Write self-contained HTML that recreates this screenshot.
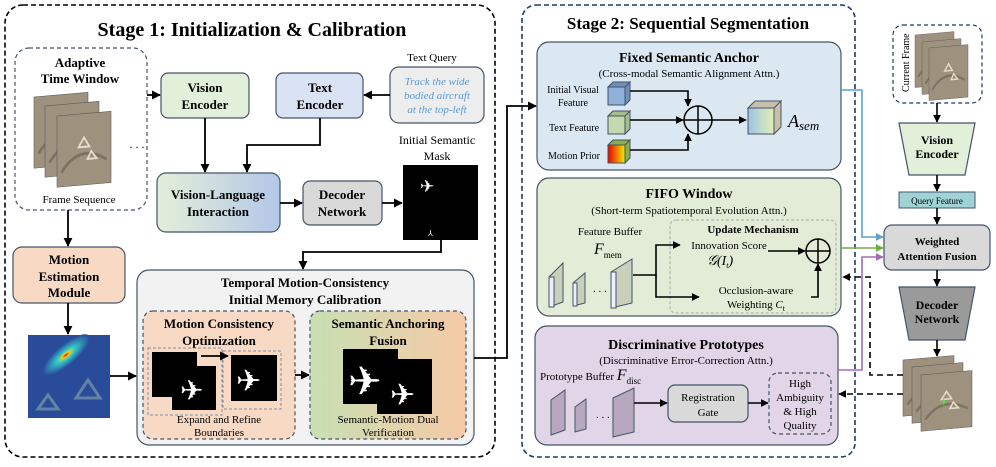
<!DOCTYPE html><html><head><meta charset="utf-8"><style>body{margin:0;background:#fff}svg{display:block;font-family:"Liberation Serif",serif}</style></head><body>
<svg width="996" height="467" viewBox="0 0 996 467" xmlns="http://www.w3.org/2000/svg">
<defs>
<marker id="a" viewBox="0 0 10 10" refX="9" refY="5" markerWidth="5" markerHeight="5" orient="auto"><path d="M0,0L10,5L0,10z" fill="#000"/></marker>
<marker id="ab" viewBox="0 0 10 10" refX="9" refY="5" markerWidth="5" markerHeight="5" orient="auto"><path d="M0,0L10,5L0,10z" fill="#5ba3c9"/></marker>
<marker id="ag" viewBox="0 0 10 10" refX="9" refY="5" markerWidth="5" markerHeight="5" orient="auto"><path d="M0,0L10,5L0,10z" fill="#70ad47"/></marker>
<marker id="ap" viewBox="0 0 10 10" refX="9" refY="5" markerWidth="5" markerHeight="5" orient="auto"><path d="M0,0L10,5L0,10z" fill="#a56bb8"/></marker>
<linearGradient id="vl" x1="0" x2="1"><stop offset="0" stop-color="#e2efd9"/><stop offset="1" stop-color="#b4c7e7"/></linearGradient>
<linearGradient id="saf" x1="0" x2="1"><stop offset="0" stop-color="#c9dfb4"/><stop offset="1" stop-color="#f6caa6"/></linearGradient>
<linearGradient id="mp" x1="0" x2="1"><stop offset="0" stop-color="#e00"/><stop offset="1" stop-color="#ee0"/></linearGradient>
<linearGradient id="as" x1="0" x2="1"><stop offset="0" stop-color="#9dc3e6"/><stop offset="1" stop-color="#e2efb4"/></linearGradient>
<radialGradient id="hm"><stop offset="0" stop-color="#c00"/><stop offset=".15" stop-color="#fc0"/><stop offset=".35" stop-color="#3cc"/><stop offset="1" stop-color="#2a4a9a"/></radialGradient>
<g id="sat"><rect width="60" height="75" fill="#9e927e" stroke="#555" stroke-width=".6"/><path d="M5 60 Q25 30 55 50" stroke="#7d7262" fill="none" stroke-width="3"/><path d="M30 25l6 10h-12z M38 40l6 8h-10z" fill="none" stroke="#e8dccb" stroke-width="2"/></g>
</defs>
<g stroke-width="1.6" fill="none">
<rect x="5" y="5" width="490" height="452" rx="18" stroke="#000" stroke-dasharray="5,3"/>
<rect x="522" y="5" width="333" height="452" rx="14" stroke="#1f3864" stroke-dasharray="5,3"/>
</g>
<text x="252" y="36" font-size="20" font-weight="bold" text-anchor="middle">Stage 1: Initialization &amp; Calibration</text>
<text x="688" y="29" font-size="17" font-weight="bold" text-anchor="middle">Stage 2: Sequential Segmentation</text>
<rect x="15" y="48" width="132" height="162" rx="14" fill="#fff" stroke="#44546a" stroke-width="1.2" stroke-dasharray="4,3"/>
<text x="80" y="67" font-size="13" font-weight="bold" text-anchor="middle">Adaptive</text>
<text x="80" y="83" font-size="13" font-weight="bold" text-anchor="middle">Time Window</text>
<g transform="translate(34,97) skewY(-5) scale(.9,.95)"><use href="#sat"/></g>
<g transform="translate(45,106) skewY(-5) scale(.9,.95)"><use href="#sat"/></g>
<g transform="translate(57,116) skewY(-5) scale(.9,.95)"><use href="#sat"/></g>
<text x="137" y="148" font-size="12" text-anchor="middle">. . .</text>
<text x="79" y="203" font-size="11" text-anchor="middle">Frame Sequence</text>
<rect x="161" y="73" width="88" height="45" rx="7" fill="#e2efd9" stroke="#44546a" stroke-width="1.2"/>
<text x="205" y="92" font-size="13" font-weight="bold" text-anchor="middle">Vision</text><text x="205" y="109" font-size="13" font-weight="bold" text-anchor="middle">Encoder</text>
<rect x="276" y="73" width="87" height="45" rx="7" fill="#dae3f3" stroke="#44546a" stroke-width="1.2"/>
<text x="320" y="92" font-size="13" font-weight="bold" text-anchor="middle">Text</text><text x="320" y="109" font-size="13" font-weight="bold" text-anchor="middle">Encoder</text>
<text x="432" y="61" font-size="11" text-anchor="middle">Text Query</text>
<rect x="390" y="67" width="94" height="56" rx="9" fill="#ededed" stroke="#44546a" stroke-width="1.2"/>
<g font-size="11" font-style="italic" fill="#5b9bd5" text-anchor="middle"><text x="437" y="85">Track the wide</text><text x="437" y="99">bodied aircraft</text><text x="437" y="113">at the top-left</text></g>
<rect x="157" y="173" width="123" height="59" rx="9" fill="url(#vl)" stroke="#44546a" stroke-width="1.2"/>
<text x="218" y="199" font-size="13" font-weight="bold" text-anchor="middle">Vision-Language</text><text x="218" y="216" font-size="13" font-weight="bold" text-anchor="middle">Interaction</text>
<rect x="303" y="181" width="79" height="44" rx="7" fill="#d9d9d9" stroke="#44546a" stroke-width="1.2"/>
<text x="342" y="199" font-size="13" font-weight="bold" text-anchor="middle">Decoder</text><text x="342" y="216" font-size="13" font-weight="bold" text-anchor="middle">Network</text>
<text x="437" y="144" font-size="12" text-anchor="middle">Initial Semantic</text><text x="437" y="160" font-size="12" text-anchor="middle">Mask</text>
<rect x="403" y="165" width="75" height="75" fill="#000"/>
<text x="420" y="192" font-size="17" fill="#fff">✈</text><text x="428" y="236" font-size="8" fill="#fff">⅄</text>
<rect x="13" y="247" width="112" height="56" rx="9" fill="#f8d9c4" stroke="#44546a" stroke-width="1.2"/>
<g font-size="13" font-weight="bold" text-anchor="middle"><text x="69" y="264">Motion</text><text x="69" y="281">Estimation</text><text x="69" y="297">Module</text></g>
<rect x="28" y="335" width="82" height="83" fill="#2a4a9a"/>
<ellipse cx="66" cy="355" rx="30" ry="10" transform="rotate(-40 66 355)" fill="url(#hm)"/>
<path d="M88 380l12 18h-24z M48 395l10 14h-20z" fill="none" stroke="#8aa" stroke-width="3" opacity=".6"/>
<rect x="137" y="270" width="337" height="175" rx="12" fill="#f2f2f2" stroke="#44546a" stroke-width="1.2"/>
<text x="305" y="287" font-size="13" font-weight="bold" text-anchor="middle">Temporal Motion-Consistency</text>
<text x="305" y="304" font-size="13" font-weight="bold" text-anchor="middle">Initial Memory Calibration</text>
<rect x="143" y="311" width="152" height="128" rx="10" fill="#f8d9c4" stroke="#44546a" stroke-width="1.2" stroke-dasharray="4,3"/>
<text x="219" y="328" font-size="13" font-weight="bold" text-anchor="middle">Motion Consistency</text><text x="219" y="345" font-size="13" font-weight="bold" text-anchor="middle">Optimization</text>
<rect x="148" y="348" width="74" height="67" fill="none" stroke="#7f8fa6" stroke-dasharray="3,2"/>
<rect x="223" y="351" width="58" height="58" fill="none" stroke="#7f8fa6" stroke-dasharray="3,2"/>
<rect x="152" y="352" width="45" height="45" fill="#000"/><rect x="172" y="366" width="44" height="44" fill="#000"/>
<text x="180" y="400" font-size="28" fill="#fff">✈</text>
<rect x="231" y="355" width="46" height="46" fill="#000"/><text x="236" y="391" font-size="30" fill="#fff">✈</text>
<text x="219" y="423" font-size="11" text-anchor="middle">Expand and Refine</text><text x="219" y="436" font-size="11" text-anchor="middle">Boundaries</text>
<rect x="310" y="311" width="156" height="128" rx="10" fill="url(#saf)" stroke="#44546a" stroke-width="1.2" stroke-dasharray="4,3"/>
<text x="388" y="328" font-size="13" font-weight="bold" text-anchor="middle">Semantic Anchoring</text><text x="388" y="345" font-size="13" font-weight="bold" text-anchor="middle">Fusion</text>
<rect x="343" y="349" width="55" height="55" fill="#000"/><rect x="377" y="359" width="55" height="55" fill="#000"/>
<text x="348" y="395" font-size="40" fill="#fff">✈</text><text x="390" y="405" font-size="30" fill="#fff">✈</text>
<text x="388" y="423" font-size="11" text-anchor="middle">Semantic-Motion Dual</text><text x="388" y="436" font-size="11" text-anchor="middle">Verification</text>
<g stroke="#000" stroke-width="1.8" fill="none" marker-end="url(#a)">
<path d="M147 95H160"/><path d="M390 95H364"/><path d="M205 118V172"/><path d="M320 118V145H247V172"/>
<path d="M280 203H302"/><path d="M382 203H402"/><path d="M441 240V252H303V269"/>
<path d="M68 210V246"/><path d="M68 303V334"/><path d="M110 376H136"/><path d="M295 375H309"/><path d="M201 356H228"/>
<path d="M474 358H507V106H536"/>
</g>
<rect x="537" y="42" width="304" height="128" rx="12" fill="#dbe8f1" stroke="#44546a" stroke-width="1.2"/>
<text x="689" y="62" font-size="14" font-weight="bold" text-anchor="middle">Fixed Semantic Anchor</text>
<text x="689" y="77" font-size="11" text-anchor="middle">(Cross-modal Semantic Alignment Attn.)</text>
<g font-size="10" text-anchor="middle"><text x="573" y="93">Initial Visual</text><text x="573" y="106">Feature</text><text x="574" y="131">Text Feature</text><text x="574" y="159">Motion Prior</text></g>
<g stroke="#44546a" stroke-width="1">
<path d="M608 87h17v18h-17z" fill="#8fb0d8"/><path d="M608 87l5-5h17l-5 5zM625 87l5-5v18l-5 5z" fill="#6d8fba"/>
<path d="M608 116h17v18h-17z" fill="#c5d9ae"/><path d="M608 116l5-5h17l-5 5zM625 116l5-5v18l-5 5z" fill="#a4bd8a"/>
<path d="M608 145h17v18h-17z" fill="url(#mp)"/><path d="M608 145l5-5h17l-5 5zM625 145l5-5v18l-5 5z" fill="#8ab04a"/>
<path d="M748 108h26v26h-26z" fill="url(#as)"/><path d="M748 108l7-7h26l-7 7zM774 108l7-7v26l-7 7z" fill="#c8c0a8"/>
</g>
<text x="788" y="127" font-size="18" font-style="italic">A<tspan font-size="13" dy="3">sem</tspan></text>
<circle cx="698" cy="120" r="14" fill="none" stroke="#000" stroke-width="1.5"/><path d="M684 120h28M698 106v28" stroke="#000" stroke-width="1.5"/>
<g stroke="#000" stroke-width="1.6" fill="none" marker-end="url(#a)"><path d="M630 91H688V106"/><path d="M630 120H683"/><path d="M630 150H688V134"/><path d="M712 120H746"/></g>
<rect x="537" y="178" width="304" height="138" rx="12" fill="#e2ecd6" stroke="#44546a" stroke-width="1.2"/>
<text x="689" y="198" font-size="14" font-weight="bold" text-anchor="middle">FIFO Window</text>
<text x="689" y="214" font-size="11" text-anchor="middle">(Short-term Spatiotemporal Evolution Attn.)</text>
<rect x="670" y="220" width="166" height="93" rx="6" fill="none" stroke="#aaa" stroke-dasharray="3,2"/>
<text x="610" y="235" font-size="11" text-anchor="middle">Feature Buffer</text>
<text x="594" y="254" font-size="16" font-style="italic">F<tspan font-size="9" font-style="normal" dy="4">mem</tspan></text>
<g fill="#c8d0bc" stroke="#44546a" stroke-width="1"><path d="M549 277l14-14v39l-14 5z"/><path d="M549 277h5v30h-5z" fill="#eef"/><path d="M573 283l12-10v30l-12 3z"/><path d="M573 283h4v23h-4z" fill="#eef"/><path d="M611 272l21-13v44l-21 5z"/><path d="M611 272h5v36h-5z" fill="#eef"/></g>
<text x="593" y="292" font-size="11">. . .</text>
<text x="753" y="233" font-size="11" font-weight="bold" text-anchor="middle">Update Mechanism</text>
<text x="729" y="249" font-size="11" text-anchor="middle">Innovation Score</text>
<text x="707" y="265" font-size="14" font-style="italic">𝒢(I<tspan font-size="8" dy="3">t</tspan><tspan dy="-3">)</tspan></text>
<text x="756" y="294" font-size="11" text-anchor="middle">Occlusion-aware</text>
<text x="756" y="308" font-size="11" text-anchor="middle">Weighting <tspan font-style="italic">C</tspan><tspan font-size="8" dy="3">t</tspan></text>
<circle cx="818" cy="251" r="12" fill="none" stroke="#000" stroke-width="1.5"/><path d="M806 251h24M818 239v24" stroke="#000" stroke-width="1.5"/>
<g stroke="#000" stroke-width="1.6" fill="none" marker-end="url(#a)"><path d="M633 275H656V245H680"/><path d="M656 275V297H699"/><path d="M768 251H805"/><path d="M811 297H818V264"/></g>
<rect x="535" y="326" width="303" height="119" rx="12" fill="#e1d5e7" stroke="#44546a" stroke-width="1.2"/>
<text x="686" y="349" font-size="14" font-weight="bold" text-anchor="middle">Discriminative Prototypes</text>
<text x="686" y="364" font-size="11" text-anchor="middle">(Discriminative Error-Correction Attn.)</text>
<text x="540" y="380" font-size="11">Prototype Buffer <tspan font-size="16" font-style="italic">F</tspan><tspan font-size="9" dy="4">disc</tspan></text>
<g fill="#b8a8bf" stroke="#44546a" stroke-width="1"><path d="M551 400l14-10v40l-14 5z"/><path d="M575 407l11-8v30l-11 3z"/><path d="M613 398l21-10v44l-21 5z"/></g>
<text x="596" y="418" font-size="11">. . .</text>
<rect x="668" y="385" width="80" height="37" rx="7" fill="#d9d9d9" stroke="#44546a" stroke-width="1.2"/>
<text x="708" y="401" font-size="11" text-anchor="middle">Registration</text><text x="708" y="416" font-size="11" text-anchor="middle">Gate</text>
<rect x="769" y="373" width="62" height="61" rx="9" fill="none" stroke="#44546a" stroke-width="1.2" stroke-dasharray="4,3"/>
<g font-size="11" text-anchor="middle"><text x="800" y="387">High</text><text x="800" y="401">Ambiguity</text><text x="800" y="415">&amp; High</text><text x="800" y="429">Quality</text></g>
<g stroke="#000" stroke-width="1.6" fill="none" marker-end="url(#a)"><path d="M634 403H667"/><path d="M748 403H768"/></g>
<rect x="893" y="25" width="89" height="78" rx="10" fill="#fff" stroke="#1f3864" stroke-width="1.2" stroke-dasharray="4,3"/>
<text transform="translate(909,92) rotate(-90)" font-size="10">Current Frame</text>
<g transform="translate(915,35) skewY(-5) scale(.65,.7)"><use href="#sat"/></g>
<g transform="translate(922,42) skewY(-5) scale(.65,.7)"><use href="#sat"/></g>
<g transform="translate(929,48) skewY(-5) scale(.65,.7)"><use href="#sat"/></g>
<path d="M899 123H975L965 175H909Z" fill="#e2efd9" stroke="#44546a" stroke-width="1.2"/>
<text x="937" y="144" font-size="12" font-weight="bold" text-anchor="middle">Vision</text><text x="937" y="158" font-size="12" font-weight="bold" text-anchor="middle">Encoder</text>
<rect x="899" y="192" width="76" height="16" fill="#9fd3d6" stroke="#44546a" stroke-width="1"/>
<text x="937" y="204" font-size="9" text-anchor="middle">Query Feature</text>
<rect x="884" y="225" width="106" height="45" rx="8" fill="#d9d9d9" stroke="#44546a" stroke-width="1.2"/>
<text x="937" y="245" font-size="11" font-weight="bold" text-anchor="middle">Weighted</text><text x="937" y="260" font-size="11" font-weight="bold" text-anchor="middle">Attention Fusion</text>
<path d="M899 287H975L965 340H909Z" fill="#9a9a9a" stroke="#44546a" stroke-width="1.2"/>
<text x="937" y="309" font-size="12" font-weight="bold" text-anchor="middle">Decoder</text><text x="937" y="323" font-size="12" font-weight="bold" text-anchor="middle">Network</text>
<g transform="translate(903,360) skewY(-5) scale(.85,.75)"><use href="#sat"/></g>
<g transform="translate(912,367) skewY(-5) scale(.85,.75)"><use href="#sat"/></g>
<g transform="translate(921,375) skewY(-5) scale(.85,.75)"><use href="#sat"/></g>
<text x="940" y="405" font-size="9" fill="#3f3">✈</text>
<g stroke="#000" stroke-width="1.6" fill="none" marker-end="url(#a)"><path d="M937 103V122"/><path d="M937 175V191"/><path d="M937 208V224"/><path d="M937 270V286"/><path d="M937 340V356"/></g>
<path d="M841 90H862V237H883" stroke="#5ba3c9" stroke-width="1.6" fill="none" marker-end="url(#ab)"/>
<path d="M841 248H883" stroke="#70ad47" stroke-width="1.6" fill="none" marker-end="url(#ag)"/>
<path d="M838 370H862V257H883" stroke="#a56bb8" stroke-width="1.6" fill="none" marker-end="url(#ap)"/>
<g stroke="#000" stroke-width="1.6" fill="none" stroke-dasharray="6,4" marker-end="url(#a)"><path d="M903 375H870V277H843"/><path d="M903 394H839"/></g>
</svg></body></html>
